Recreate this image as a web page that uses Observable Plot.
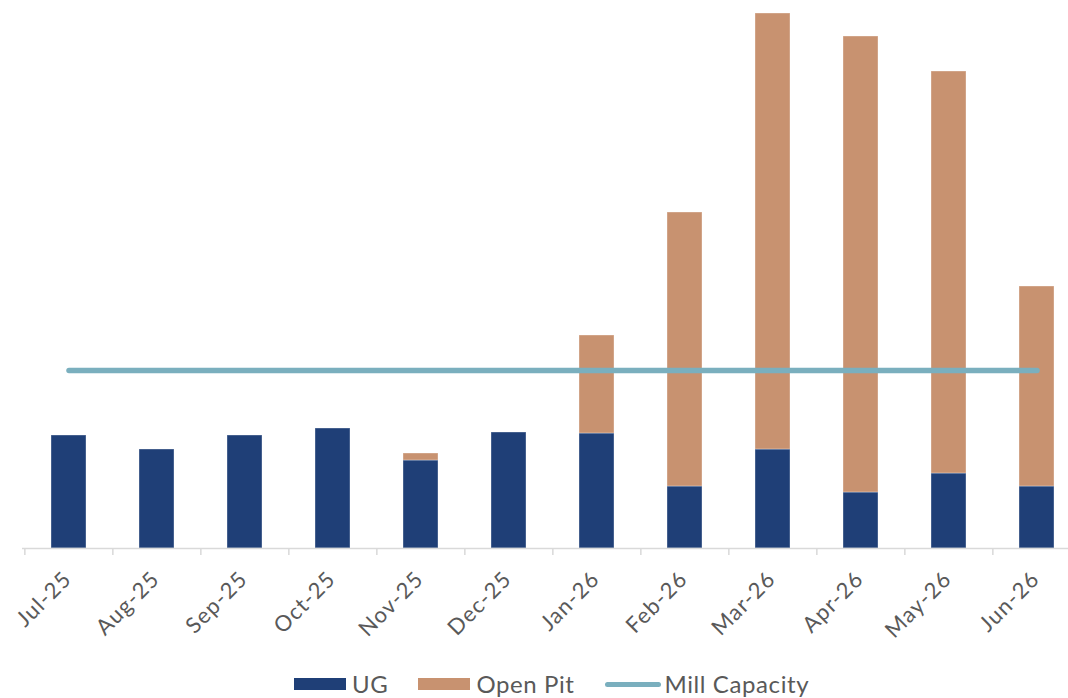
<!DOCTYPE html>
<html>
<head>
<meta charset="utf-8">
<script src="https://cdn.jsdelivr.net/npm/d3@7"></script>
<script src="https://cdn.jsdelivr.net/npm/@observablehq/plot@0.6"></script>
<style>
  html, body { margin: 0; padding: 0; background: #ffffff; }
  body { width: 1068px; height: 698px; overflow: hidden; font-family: Lato, "Open Sans", sans-serif; }
  #chart svg text { letter-spacing: 1.2px; }
  #legend { display: flex; align-items: center; margin-left: 294px; margin-top: 22px; color: #595959; font-size: 24px; line-height: 24px; letter-spacing: 0.6px; }
  #legend .item { display: flex; align-items: center; margin-right: 30px; }
  #legend .sw { width: 52px; height: 12px; margin-right: 6px; }
  #legend .ln { width: 56px; height: 5px; border-radius: 3px; margin-right: 4px; }
</style>
</head>
<body>
<div id="chart"></div>
<div id="legend"></div>
<script>
const months = ["Jul-25","Aug-25","Sep-25","Oct-25","Nov-25","Dec-25","Jan-26","Feb-26","Mar-26","Apr-26","May-26","Jun-26"];
const ug      = [113, 99, 113, 120, 88, 116, 115, 62, 99, 56, 75, 62];
const openPit = [0, 0, 0, 0, 7, 0, 98, 274, 436, 456, 402, 200];
const millCapacity = [178, 178, 178, 178, 178, 178, 178, 178, 178, 178, 178, 178];
const seriesNames = ["UG", "Open Pit", "Mill Capacity"];
const seriesColors = ["#1f3f77", "#c89270", "#7aafbe"];

const table = [];
months.forEach((m, i) => {
  table.push({month: m, series: "UG", value: ug[i]});
  table.push({month: m, series: "Open Pit", value: openPit[i]});
});
const mill = months.map((m, i) => ({month: m, value: millCapacity[i]}));

const x0 = 22.3, x1 = 1081.9;
const step = (x1 - x0) / months.length;

const chart = Plot.plot({
  width: 1068,
  height: 650,
  marginTop: 0,
  marginBottom: 102,
  marginLeft: 22,
  marginRight: 0,
  style: {fontFamily: "Lato, 'Open Sans', sans-serif", background: "#ffffff"},
  x: {type: "band", domain: months, range: [x0, x1], paddingInner: 0.6, paddingOuter: 0.3, axis: null, label: null},
  y: {domain: [0, 548], axis: null, label: null},
  color: {domain: seriesNames.slice(0, 2), range: seriesColors.slice(0, 2)},
  marks: [
    Plot.barY(table, {x: "month", y: "value", fill: "series", order: ["UG", "Open Pit"], stroke: "#ffffff", strokeOpacity: 0.35, strokeWidth: 1}),
    Plot.ruleY([0], {stroke: "#d9d9d9", strokeWidth: 1.5}),
    Plot.axisX({tickSize: 7, tickFormat: () => "", label: null, stroke: "#d9d9d9", strokeWidth: 1.5, dx: -step / 2}),
    Plot.axisX({tickSize: 0, tickRotate: -45, tickPadding: 27, label: null, fontSize: 22, fill: "#595959", dx: -1}),
    Plot.line(mill, {x: "month", y: "value", stroke: seriesColors[2], strokeWidth: 5.5, strokeLinecap: "round"})
  ]
});
document.getElementById("chart").appendChild(chart);

const legend = document.getElementById("legend");
seriesNames.forEach((name, i) => {
  const item = document.createElement("div");
  item.className = "item";
  const sw = document.createElement("div");
  sw.className = i < 2 ? "sw" : "ln";
  sw.style.background = seriesColors[i];
  const label = document.createElement("span");
  label.textContent = name;
  item.appendChild(sw);
  item.appendChild(label);
  legend.appendChild(item);
});
</script>
</body>
</html>
